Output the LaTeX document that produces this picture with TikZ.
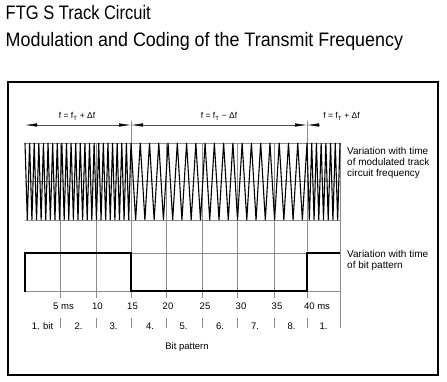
\documentclass[tikz,border=0pt]{standalone}
\usepackage{fontspec}
\setmainfont{Liberation Sans}
\usepackage{graphicx}
\usetikzlibrary{arrows.meta}
\tikzset{
  gridline/.style={black!45,line width=0.5pt},
  dimline/.style={black!70,line width=0.5pt},
  dimtip/.style={-{Latex[length=12pt,width=3.4pt,black]}},
  dimlabel/.style={font=\fontsize{8.5}{9}\selectfont,anchor=base,inner sep=0pt},
  ticklabel/.style={font=\fontsize{9.5}{10}\selectfont,anchor=base,inner sep=0pt},
  sidelabel/.style={font=\fontsize{10}{11}\selectfont,align=left,anchor=north west,inner sep=0pt},
  headline/.style={font=\fontsize{19.5}{20}\selectfont,anchor=base west,inner sep=0pt},
}

\begin{document}
\begin{tikzpicture}[x=1pt,y=-1pt]
  \useasboundingbox (0,0) rectangle (447,382);
  % title
  \node[headline] (title) at (5.5,20) {\scalebox{0.846}[1]{FTG S Track Circuit}};
  \node[headline] (subtitle) at (5.5,47) {\scalebox{0.918}[1]{Modulation and Coding of the Transmit Frequency}};
  \draw[line width=2pt] (8,82) rectangle (438,375);

  % grid
  \foreach \y in {143,181.5,220,253,291}{ \draw[gridline] (25,\y) -- (340,\y); }
  \foreach \x in {60,96.5,166.5,202,237.5,274}{ \draw[gridline] (\x,143) -- (\x,298); }
  \foreach \x in {131,307}{ \draw[gridline] (\x,121) -- (\x,298); }
  \draw[gridline] (340,143) -- (340,328);
  \foreach \x in {60,96.5,131,166.5,202,237.5,274,307}{ \draw[gridline] (\x,318) -- (\x,328); }

  % frequency ranges
  \draw[dimline,dimtip] (78,125) -- (25,125);
  \draw[dimline,dimtip] (78,125) -- (131,125);
  \draw[dimline,dimtip] (219,125) -- (131,125);
  \draw[dimline,dimtip] (219,125) -- (307,125);
  \draw[dimline,dimtip] (320,125) -- (307,125);
  \node[dimlabel] (fhigh) at (77,119) {f = f\textsubscript{T} + Δf};
  \node[dimlabel] (flow) at (219,119) {f = f\textsubscript{T} − Δf};
  \node[dimlabel] (fhigh2) at (341.5,119) {f = f\textsubscript{T} + Δf};

  % modulated track circuit frequency
  \draw[line width=1.1pt] (25,143)
    \foreach \i in {1,...,23}{ -- ++(2.3043,77) -- ++(2.3043,-77) }
    \foreach \i in {1,...,19}{ -- ++(4.6316,77) -- ++(4.6316,-77) }
    \foreach \i in {1,...,7}{ -- ++(2.3571,77) -- ++(2.3571,-77) };

  % bit pattern
  \draw[line width=2.2pt] (25,292) -- (25,253) -- (131,253) -- (131,291) -- (307,291) -- (307,253) -- (340,253);

  \node[sidelabel] (wavelabel) at (347,146.7) {Variation with time\\of modulated track\\circuit frequency};
  \node[sidelabel] (bitlabel) at (347,250) {Variation with time\\of bit pattern};

  % time axis
  \foreach \x/\t [count=\i] in {63.5/5 ms,97.5/10,132.5/15,168/20,205/25,241/30,277/35,317/40 ms}{
    \node[ticklabel] (ms\i) at (\x,309.5) {\t};
  }
  \foreach \x/\t [count=\i] in {42.5/1. bit,78.5/2.,113.5/3.,150/4.,183.5/5.,220/6.,255/7.,291.5/8.,323.5/1.}{
    \node[ticklabel] (bit\i) at (\x,329) {\t};
  }
  \node[ticklabel] (bitaxis) at (187,349.5) {Bit pattern};
\end{tikzpicture}
\end{document}
